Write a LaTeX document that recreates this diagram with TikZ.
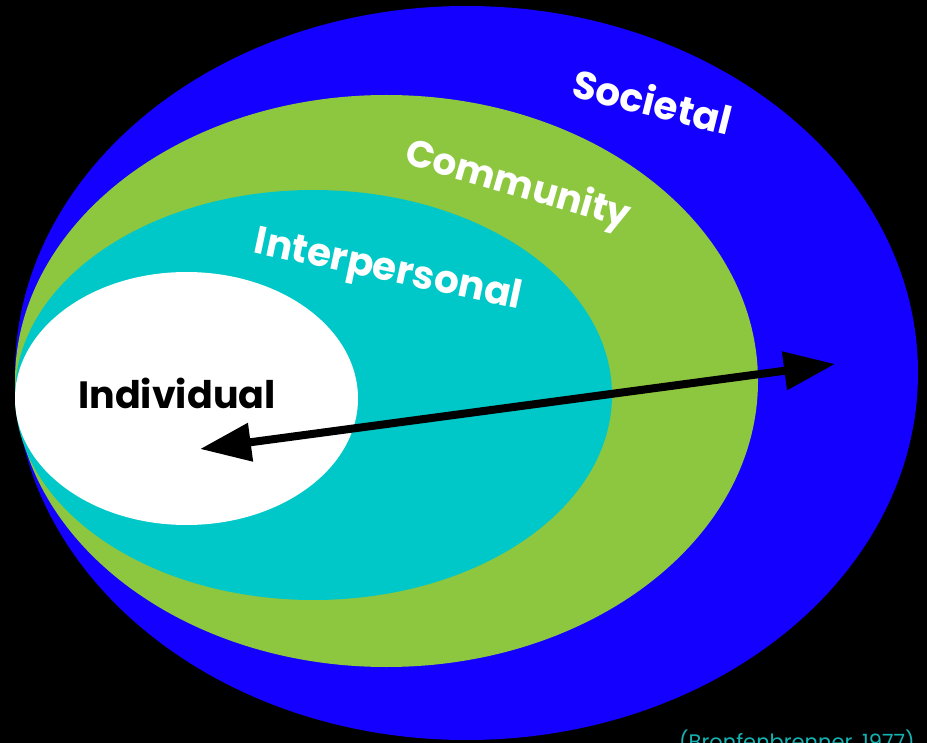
\documentclass[tikz,border=0pt]{standalone}
\usepackage{fontspec}
\setmainfont{Poppins}
\usetikzlibrary{shapes.geometric,arrows.meta}
\definecolor{socblue}{HTML}{1400FF}
\definecolor{comgreen}{HTML}{8DC63F}
\definecolor{intteal}{HTML}{00C8C8}
\definecolor{citeteal}{HTML}{14B4B4}
\begin{document}
\begin{tikzpicture}[x=1pt,y=-1pt,
  ring/.style={ellipse, inner sep=0pt, outer sep=0pt, draw=none},
  lbl/.style={font=\bfseries\fontsize{39}{39}\selectfont, text=white, anchor=base, inner sep=0pt},
  twoway/.style={line width=8pt, {Triangle[length=51pt,width=37pt]}-{Triangle[length=51pt,width=37pt]}}
]
\fill[black] (0,0) rectangle (927,743);
\useasboundingbox (0,0) rectangle (927,743);
\begin{scope}
\clip (0,0) rectangle (927,743);
\node[ring, fill=socblue, minimum width=903pt, minimum height=734pt] (societal) at (466.5,373) {};
\node[ring, fill=comgreen, minimum width=743pt, minimum height=572pt] (community) at (386.5,381) {};
\node[ring, fill=intteal, minimum width=597pt, minimum height=410pt] (interpersonal) at (313.5,395) {};
\node[ring, fill=white, minimum width=343pt, minimum height=253pt] (individual) at (186.5,398.5) {};

\node[lbl, rotate=-14] (tsoc) at (649,116) {Societal};
\node[lbl, rotate=-16, font=\bfseries\fontsize{37.5}{37.5}\selectfont] (tcom) at (515,196) {Community};
\node[lbl, rotate=-12] (tint) at (386,281) {Interpersonal};
\node[lbl, text=black, font=\bfseries\fontsize{38}{38}\selectfont] (tind) at (177,409) {Individual};

\coordinate (inner) at (200,449);
\coordinate (outer) at (835,364);
\draw[twoway] (inner) -- (outer);

\node[anchor=base west, inner sep=0pt, text=citeteal, font=\fontsize{21}{21}\selectfont] (cite) at (679,749) {(Bronfenbrenner, 1977)};
\end{scope}
\end{tikzpicture}
\end{document}
